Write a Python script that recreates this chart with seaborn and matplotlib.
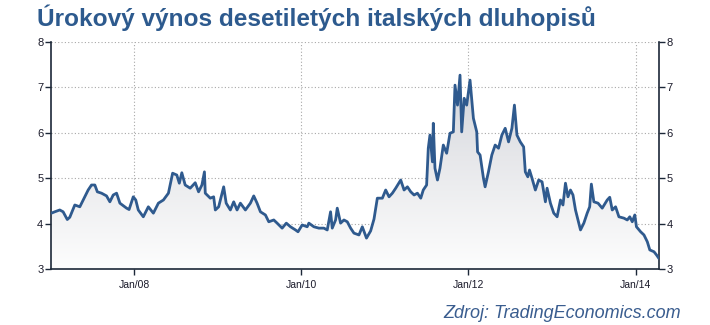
import numpy as np
import pandas as pd
import matplotlib
matplotlib.use("Agg")
import matplotlib.pyplot as plt
import matplotlib.dates as mdates
from matplotlib.colors import LinearSegmentedColormap
import seaborn as sns

# ---- data ----
decimal_years = [
    2007.01, 2007.05, 2007.11, 2007.15, 2007.20, 2007.23, 2007.29, 2007.35, 2007.39, 2007.45,
    2007.49, 2007.53, 2007.56, 2007.61, 2007.67, 2007.71, 2007.75, 2007.79, 2007.83, 2007.91,
    2007.94, 2007.99, 2008.02, 2008.05, 2008.11, 2008.17, 2008.23, 2008.29, 2008.35, 2008.41,
    2008.46, 2008.51, 2008.54, 2008.57, 2008.61, 2008.67, 2008.73, 2008.77, 2008.81, 2008.84,
    2008.85, 2008.91, 2008.95, 2008.97, 2009.01, 2009.07, 2009.10, 2009.15, 2009.19, 2009.23,
    2009.27, 2009.33, 2009.39, 2009.43, 2009.47, 2009.51, 2009.57, 2009.61, 2009.67, 2009.71,
    2009.77, 2009.82, 2009.87, 2009.93, 2009.96, 2010.01, 2010.07, 2010.09, 2010.15, 2010.21,
    2010.27, 2010.31, 2010.35, 2010.37, 2010.41, 2010.43, 2010.47, 2010.51, 2010.55, 2010.59,
    2010.63, 2010.69, 2010.73, 2010.78, 2010.83, 2010.87, 2010.91, 2010.97, 2011.01, 2011.05,
    2011.09, 2011.13, 2011.19, 2011.23, 2011.27, 2011.31, 2011.35, 2011.39, 2011.43, 2011.46,
    2011.50, 2011.52, 2011.54, 2011.57, 2011.58, 2011.60, 2011.63, 2011.66, 2011.70, 2011.74,
    2011.78, 2011.82, 2011.84, 2011.87, 2011.90, 2011.92, 2011.95, 2011.98, 2012.02, 2012.06,
    2012.10, 2012.11, 2012.14, 2012.18, 2012.20, 2012.24, 2012.28, 2012.32, 2012.36, 2012.40,
    2012.44, 2012.48, 2012.52, 2012.55, 2012.58, 2012.62, 2012.66, 2012.68, 2012.71, 2012.73,
    2012.76, 2012.80, 2012.84, 2012.88, 2012.92, 2012.94, 2012.98, 2013.02, 2013.06, 2013.10,
    2013.13, 2013.16, 2013.19, 2013.22, 2013.25, 2013.28, 2013.32, 2013.34, 2013.38, 2013.42,
    2013.45, 2013.47, 2013.50, 2013.55, 2013.60, 2013.66, 2013.69, 2013.72, 2013.76, 2013.80,
    2013.86, 2013.90, 2013.93, 2013.96, 2013.99, 2014.01, 2014.06, 2014.10, 2014.14, 2014.17,
    2014.22, 2014.25, 2014.28,
]
yields = [
    4.23, 4.26, 4.30, 4.26, 4.09, 4.14, 4.41, 4.37, 4.52, 4.74,
    4.85, 4.85, 4.70, 4.67, 4.61, 4.48, 4.63, 4.67, 4.45, 4.34,
    4.31, 4.59, 4.52, 4.30, 4.15, 4.37, 4.23, 4.45, 4.52, 4.67,
    5.11, 5.07, 4.89, 5.12, 4.85, 4.78, 4.90, 4.70, 4.85, 5.14,
    4.67, 4.56, 4.59, 4.30, 4.37, 4.81, 4.45, 4.30, 4.48, 4.30,
    4.45, 4.30, 4.45, 4.61, 4.45, 4.26, 4.19, 4.04, 4.08, 4.01,
    3.90, 4.01, 3.93, 3.86, 3.82, 3.97, 3.93, 4.01, 3.93, 3.90,
    3.90, 3.86, 4.26, 3.90, 4.08, 4.34, 4.01, 4.08, 4.04, 3.90,
    3.79, 3.75, 3.93, 3.68, 3.84, 4.10, 4.56, 4.56, 4.74, 4.59,
    4.67, 4.78, 4.96, 4.74, 4.81, 4.70, 4.63, 4.67, 4.56, 4.74,
    4.85, 5.66, 5.95, 5.36, 6.21, 5.22, 4.96, 5.22, 5.73, 5.55,
    5.99, 6.02, 7.05, 6.61, 7.27, 6.02, 6.76, 6.61, 7.16, 6.32,
    6.02, 5.58, 5.51, 5.00, 4.81, 5.14, 5.51, 5.73, 5.66, 5.95,
    6.10, 5.80, 6.10, 6.61, 5.95, 5.80, 5.69, 5.14, 5.03, 5.18,
    5.00, 4.74, 4.96, 4.92, 4.48, 4.78, 4.45, 4.23, 4.15, 4.52,
    4.41, 4.89, 4.59, 4.74, 4.63, 4.30, 4.01, 3.86, 4.01, 4.23,
    4.37, 4.87, 4.48, 4.45, 4.34, 4.52, 4.58, 4.30, 4.37, 4.15,
    4.12, 4.08, 4.15, 4.04, 4.19, 3.93, 3.82, 3.75, 3.60, 3.42,
    3.38, 3.31, 3.23,
]
y_ticks = [3, 4, 5, 6, 7, 8]
x_tick_years = [2008, 2010, 2012, 2014]
x_tick_labels = ["Jan/08", "Jan/10", "Jan/12", "Jan/14"]
title = "Úrokový výnos desetiletých italských dluhopisů"
source = "Zdroj: TradingEconomics.com"


def to_date(t):
    y = int(np.floor(t))
    start = pd.Timestamp(year=y, month=1, day=1)
    end = pd.Timestamp(year=y + 1, month=1, day=1)
    return start + (end - start) * (t - y)


df = pd.DataFrame({"date": [to_date(t) for t in decimal_years], "yield": yields})

sns.set_style("white")
plt.rcParams["font.family"] = ["Liberation Sans", "DejaVu Sans"]

W, H = 710, 325
fig = plt.figure(figsize=(W / 100, H / 100), dpi=100)
ax = fig.add_axes([51 / W, 56 / H, 608 / W, 227 / H])

xnum = mdates.date2num(df["date"])
x0, x1 = xnum[0], xnum[-1]
ymin, ymax = 3, 8

# gradient area under the line
grad = np.linspace(0, 1, 256).reshape(-1, 1)
cmap = LinearSegmentedColormap.from_list("g", ["#c9cdd4", "#e6e7ea", "#fdfdfd"])
img = ax.imshow(grad, extent=[x0, x1, ymin, ymax], aspect="auto", cmap=cmap,
                origin="upper", zorder=1, interpolation="bilinear")
poly = ax.fill_between(xnum, df["yield"], ymin, facecolor="none", edgecolor="none")
img.set_clip_path(poly.get_paths()[0], transform=ax.transData)

sns.lineplot(data=df, x="date", y="yield", ax=ax, color="#2f5a8e", linewidth=2.0, zorder=3)

ax.set_xlim(mdates.date2num(to_date(2007.005)), x1)
ax.set_ylim(ymin, ymax)
ax.set_yticks(y_ticks)
ax.set_xticks([mdates.date2num(pd.Timestamp(year=y, month=1, day=1)) for y in x_tick_years])
ax.set_xticklabels(x_tick_labels)
ax.set_xlabel("")
ax.set_ylabel("")

ax.grid(True, linestyle=(0, (1, 2)), color="#a8a8a8", linewidth=0.8, zorder=0)
ax.set_axisbelow(True)

spine_c = "#1c2838"
for s in ["left", "right", "bottom"]:
    ax.spines[s].set_visible(True)
    ax.spines[s].set_color(spine_c)
    ax.spines[s].set_linewidth(1.2)
ax.spines["top"].set_visible(False)

ax.tick_params(axis="y", which="both", left=True, right=True, labelleft=True,
               labelright=True, direction="out", length=4, width=1,
               color=spine_c, labelsize=8, labelcolor="#1a1a2a", pad=1.5)
ax.tick_params(axis="x", which="both", bottom=True, direction="out", length=4,
               width=1, color=spine_c, labelsize=7.5, labelcolor="#1a1a2a", pad=4)

fig.text(37 / W, 1 - 18 / H, title, ha="left", va="center", fontsize=17.6,
         fontweight="bold", color="#2d5a8e")
fig.text(681 / W, 1 - 313 / H, source, ha="right", va="center", fontsize=13,
         style="italic", color="#3a5d8f")

fig.savefig("out.png", dpi=100)
